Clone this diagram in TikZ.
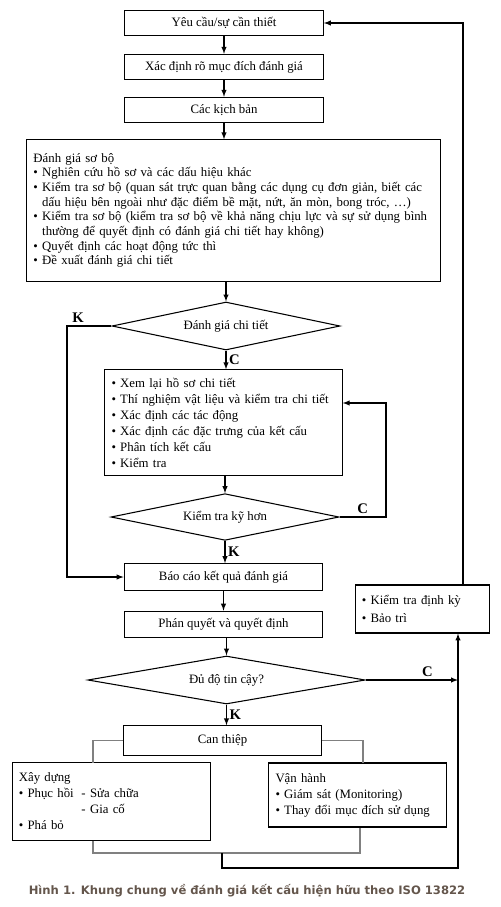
\documentclass[tikz,border=0pt]{standalone}
\usepackage{fontspec}
\setmainfont{Liberation Serif}
\newfontfamily\chuthich{DejaVu Sans}
\usetikzlibrary{shapes.geometric,arrows,positioning,calc}
\definecolor{mauchu}{RGB}{100,86,76}

\begin{document}
\begin{tikzpicture}[x=0.75pt,y=-0.75pt,
	khoi/.style={draw,thick,minimum width=149pt,minimum height=19pt,inner sep=2pt,font=\fontsize{9.6}{11}\selectfont},
	hopchu/.style={draw,thick,align=left,inner sep=5pt,font=\fontsize{9.6}{12}\selectfont},
	thoi/.style={draw,thick,diamond,aspect=5,inner sep=0pt,font=\fontsize{9.6}{11}\selectfont},
	mui/.style={-latex,thick},
	nhan/.style={font=\fontsize{11}{12}\selectfont\bfseries,inner sep=2pt},
	xam/.style={draw=gray,line width=1.2pt}]
		\useasboundingbox (0,0) rectangle (500,907);
		% cac khoi chinh
		\node[khoi] (yeucau) at (224,23) {Yêu cầu/sự cần thiết};
		\node[khoi] (xacdinh) at (224,67) {Xác định rõ mục đích đánh giá};
		\node[khoi] (kichban) at (224,110) {Các kịch bản};
		\node[hopchu,text width=300pt,minimum height=106pt,font=\fontsize{9.6}{11}\selectfont] (sobo) at (233.5,210.5) {Đánh giá sơ bộ\\
			• Nghiên cứu hồ sơ và các dấu hiệu khác\\
			• Kiểm tra sơ bộ (quan sát trực quan bằng các dụng cụ đơn giản, biết các\\
			\hphantom{• }dấu hiệu bên ngoài như đặc điểm bề mặt, nứt, ăn mòn, bong tróc, …)\\
			• Kiểm tra sơ bộ (kiểm tra sơ bộ về khả năng chịu lực và sự sử dụng bình\\
			\hphantom{• }thường để quyết định có đánh giá chi tiết hay không)\\
			• Quyết định các hoạt động tức thì\\
			• Đề xuất đánh giá chi tiết};
		\node[thoi,minimum width=171pt,minimum height=36pt] (dgct) at (226,326) {Đánh giá chi tiết};
		\node[hopchu,text width=168pt,minimum height=79pt] (chitiet) at (223.5,422.5) {• Xem lại hồ sơ chi tiết\\
			• Thí nghiệm vật liệu và kiểm tra chi tiết\\
			• Xác định các tác động\\
			• Xác định các đặc trưng của kết cấu\\
			• Phân tích kết cấu\\
			• Kiểm tra};
		\node[thoi,minimum width=171pt,minimum height=35pt] (kiemtra) at (225,517) {Kiểm tra kỹ hơn};
		\node[khoi,minimum height=20pt] (baocao) at (223.5,577) {Báo cáo kết quả đánh giá};
		\node[khoi,minimum height=20pt] (phanquyet) at (223.5,624.5) {Phán quyết và quyết định};
		\node[thoi,aspect=6,minimum width=208pt,minimum height=36pt] (dutin) at (226.5,680) {Đủ độ tin cậy?};
		\node[hopchu,text width=91pt,minimum height=36pt,font=\fontsize{9.6}{13.5}\selectfont] (dinhky) at (422.5,609) {• Kiểm tra định kỳ\\
			• Bảo trì};
		\node[khoi,minimum height=22pt] (canthiep) at (222.5,740.5) {Can thiệp};
		\node[hopchu,text width=139pt,minimum height=58pt] (xaydung) at (111.5,801.5) {Xây dựng\\
			\makebox[47pt][l]{• Phục hồi}- Sửa chữa\\
			\makebox[47pt][l]{}- Gia cố\\
			• Phá bỏ};
		\node[hopchu,text width=123pt,minimum height=48pt] (vanhanh) at (357.5,795) {Vận hành\\
			• Giám sát (Monitoring)\\
			• Thay đổi mục đích sử dụng};
		% cac diem gay
		\coordinate (goctrai) at (67,326);
		\coordinate (vong) at (386,403);
		\coordinate (nhanhtrai) at (93,763);
		\coordinate (nhanhphai) at (363,763);
		\coordinate (gopphai) at (360,853);
		\coordinate (day) at (222,853);
		\coordinate (dayphai) at (458,868);
		\coordinate (dinhphai) at (463,23);
		% mui ten doc
		\draw[mui] (yeucau) -- (xacdinh);
		\draw[mui] (xacdinh) -- (kichban);
		\draw[mui] (kichban) -- (kichban |- sobo.north);
		\draw[mui] (sobo.south -| dgct) -- (dgct);
		\draw[mui] (dgct) -- node[nhan,right]{C} (dgct |- chitiet.north);
		\draw[mui] (chitiet.south -| kiemtra) -- (kiemtra);
		\draw[mui] (kiemtra) -- node[nhan,right]{K} (kiemtra |- baocao.north);
		\draw[mui] (baocao) -- (phanquyet);
		\draw[mui] (phanquyet.south -| dutin) -- (dutin);
		\draw[mui] (dutin) -- node[nhan,right]{K} (dutin |- canthiep.north);
		% nhanh ben
		\draw[mui] (dgct.west) -- node[nhan,above,pos=0.75]{K} (goctrai) |- (baocao.west);
		\draw[mui] (kiemtra.east) -| node[nhan,above,pos=0.25]{C} (vong) -- (vong -| chitiet.east);
		\draw[mui] (dutin.east) -- node[nhan,above,pos=0.67]{C} (dutin.east -| dayphai);
		% khung can thiep
		\draw[xam] (canthiep.west) -| (nhanhtrai);
		\draw[xam] (canthiep.east) -| (nhanhphai);
		\draw[xam] (xaydung.south -| nhanhtrai) |- (gopphai) -- (gopphai |- vanhanh.south);
		% vong lap ve dau
		\draw[mui] (day) |- (dayphai) -- (dayphai |- dinhky.south);
		\draw[mui] (dinhky.north -| dinhphai) -- (dinhphai) -- (yeucau.east);
		% chu thich
		\node[text=mauchu,font=\chuthich\bfseries\fontsize{8.7}{10}\selectfont] (tieude) at (247,891) {Hình 1. Khung chung về đánh giá kết cấu hiện hữu theo ISO 13822};
\end{tikzpicture}
\end{document}
